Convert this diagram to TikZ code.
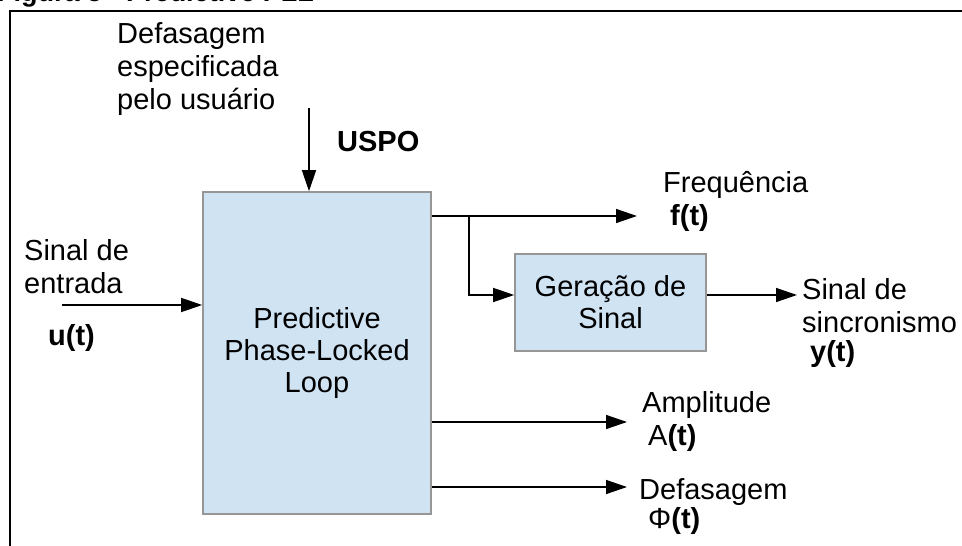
\documentclass[tikz,border=0pt]{standalone}
\usepackage{fontspec}
\setmainfont{Liberation Sans}
\usetikzlibrary{arrows.meta}
\definecolor{boxfill}{RGB}{207,227,243}
\definecolor{boxline}{RGB}{150,150,150}
\begin{document}
\begin{tikzpicture}[x=1pt,y=-1pt,
  txt/.style={inner sep=0pt,font=\fontsize{29}{33}\selectfont,align=left,anchor=base west},
  blockbox/.style={draw=boxline,line width=1.6pt,fill=boxfill,inner sep=0pt,align=center,font=\fontsize{29}{32}\selectfont},
  sig/.style={line width=1.4pt,-{Triangle[length=21pt,width=14pt]}},
  plain/.style={line width=1.4pt}]
\useasboundingbox (0,0) rectangle (962,546);
\clip (0,0) rectangle (962,546);
% caption sliver and frame
\node[txt,anchor=base east,font=\bfseries\fontsize{27}{33}\selectfont] (cap) at (314,1.5) {Figura 5 - Predictive PLL};
\coordinate (fTL) at (9.5,10.5);
\coordinate (fTR) at (962,10.5);
\coordinate (fBL) at (9.5,546);
\draw[line width=2pt] (fBL) -- (fTL) -- (fTR);
% blocks
\node[blockbox,minimum width=228pt,minimum height=322pt] (main) at (317,353) {Predictive\\Phase-Locked\\Loop};
\node[blockbox,minimum width=191pt,minimum height=97pt] (gen) at (610.5,302.5) {Geração de\\Sinal};
% labels (base = baseline of the last line)
\node[txt] (usr) at (117,109) {Defasagem\\especificada\\pelo usuário};
\node[txt,font=\bfseries\fontsize{29}{33}\selectfont] (uspo) at (337,151) {USPO};
\node[txt] (inlbl) at (24,293) {Sinal de\\entrada};
\node[txt,font=\bfseries\fontsize{29}{33}\selectfont] (ut) at (48,345) {u(t)};
\node[txt] (freq) at (663,192) {Frequência};
\node[txt,font=\bfseries\fontsize{29}{33}\selectfont] (ft) at (670,225) {f(t)};
\node[txt] (sync) at (802,332) {Sinal de\\sincronismo};
\node[txt,font=\bfseries\fontsize{29}{33}\selectfont] (yt) at (810,361) {y(t)};
\node[txt] (ampl) at (642,412) {Amplitude};
\node[txt] (at) at (648,445) {A\textbf{(t)}};
\node[txt] (defa) at (639,499) {Defasagem};
\node[txt] (pht) at (648,528) {\symbol{"03A6}\textbf{(t)}};
% connectors
\coordinate (uin) at (62,305);
\draw[sig] (uin) -- (uin -| main.west);
\coordinate (uspoin) at (309,108);
\draw[sig] (uspoin) -- (uspoin |- main.north);
\coordinate (fout) at (637,216);
\draw[sig] (fout -| main.east) -- (fout);
\coordinate (br) at (469,216);
\coordinate (yout) at (797,295);
\draw[sig] (br) |- (yout -| gen.west);
\draw[sig] (yout -| gen.east) -- (yout);
\coordinate (aout) at (627,422);
\draw[sig] (aout -| main.east) -- (aout);
\coordinate (dout) at (627,487);
\draw[sig] (dout -| main.east) -- (dout);
\end{tikzpicture}
\end{document}
